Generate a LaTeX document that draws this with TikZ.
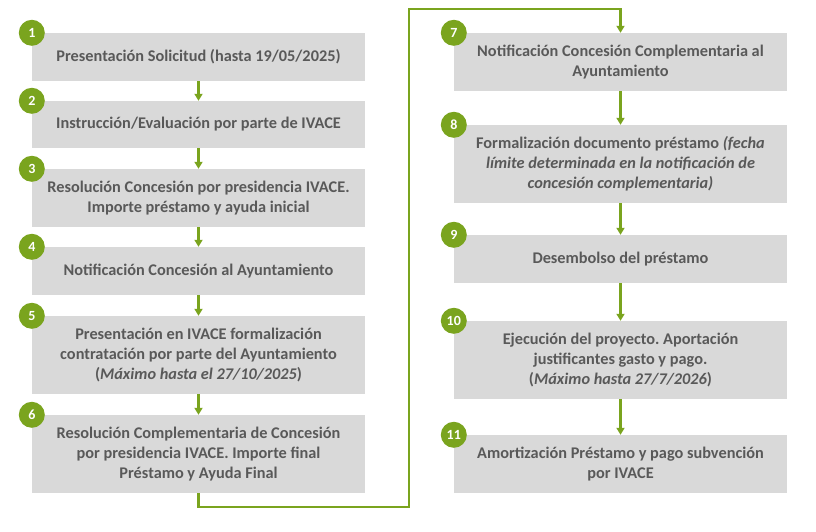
\documentclass[tikz,border=0pt]{standalone}
\usepackage{fontspec}
\setmainfont{Carlito}
\usepackage{tikz}
\usetikzlibrary{positioning,arrows.meta}
\definecolor{ivgreen}{RGB}{122,164,30}
\definecolor{ivbox}{RGB}{217,217,217}
\definecolor{ivtext}{RGB}{89,89,89}
\frenchspacing
\tikzset{
	>={Triangle[length=7pt,width=8pt]},
	stepbox/.style={fill=ivbox, minimum width=333pt, align=center, inner sep=0pt,
		text=ivtext, font=\fontsize{16.3}{20}\selectfont\bfseries},
	num/.style={circle, fill=ivgreen, minimum size=26pt, inner sep=0pt,
		text=white, font=\fontsize{14}{14}\selectfont\bfseries},
	flow/.style={->, draw=ivgreen, line width=2.2pt},
	link/.style={->, draw=ivgreen, line width=2.6pt},
}

\begin{document}
\begin{tikzpicture}[x=1pt,y=-1pt]
		\useasboundingbox (0,0) rectangle (816,532);

		% columna izquierda
		\node[stepbox, minimum height=48pt] (b1) at (198.5,57) {Presentación Solicitud (hasta 19/05/2025)};
		\node[stepbox, minimum height=47pt] (b2) at (198.5,124.5) {Instrucción/Evaluación por parte de IVACE};
		\node[stepbox, minimum height=58pt] (b3) at (198.5,198) {Resolución Concesión por presidencia IVACE.\\ Importe préstamo y ayuda inicial};
		\node[stepbox, minimum height=48pt] (b4) at (198.5,271) {Notificación Concesión al Ayuntamiento};
		\node[stepbox, minimum height=78pt] (b5) at (198.5,355) {Presentación en IVACE formalización\\ contratación por parte del Ayuntamiento\\ (\textit{Máximo hasta el 27/10/2025})};
		\node[stepbox, minimum height=78pt] (b6) at (198.5,454) {Resolución Complementaria de Concesión\\ por presidencia IVACE. Importe final\\ Préstamo y Ayuda Final};

		% columna derecha
		\node[stepbox, minimum height=58pt] (b7) at (620.5,62) {Notificación Concesión Complementaria al\\ Ayuntamiento};
		\node[stepbox, minimum height=78pt] (b8) at (620.5,164) {Formalización documento préstamo \textit{(fecha}\\ \textit{límite determinada en la notificación de}\\ \textit{concesión complementaria)}};
		\node[stepbox, minimum height=48pt] (b9) at (620.5,259) {Desembolso del préstamo};
		\node[stepbox, minimum height=78pt] (b10) at (620.5,360) {Ejecución del proyecto. Aportación\\ justificantes gasto y pago.\\ (\textit{Máximo hasta 27/7/2026})};
		\node[stepbox, minimum height=58pt] (b11) at (620.5,464) {Amortización Préstamo y pago subvención\\ por IVACE};

		% numeros
		\foreach \i in {1,...,11}
			\node[num] (n\i) at (b\i.north west) {\i};

		% flechas
		\foreach \a/\b in {1/2,2/3,3/4,4/5,5/6,7/8,8/9,9/10,10/11}
			\draw[flow] (b\a) -- (b\b);

		\coordinate (c1) at (409,507);
		\coordinate (c2) at (409,9);
		\draw[link] (b6.south) |- (c1) -- (c2) -| (b7.north);
	\end{tikzpicture}
\end{document}
